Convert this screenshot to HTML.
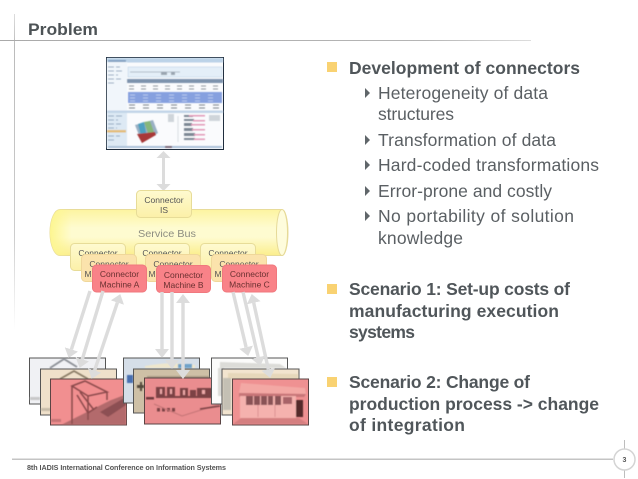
<!DOCTYPE html>
<html>
<head>
<meta charset="utf-8">
<style>
html,body{margin:0;padding:0;background:#fff;width:638px;height:479px;overflow:hidden}
svg{display:block}
text{font-family:"Liberation Sans",sans-serif}
.h{font-size:17.5px;font-weight:bold;fill:#50565a}
.s{font-size:17.5px;fill:#5a5f63}
.c{font-size:8.5px;fill:#555;text-anchor:middle}
.m{font-size:8.5px;fill:#6a3030;text-anchor:middle}
</style>
</head>
<body>
<svg width="638" height="479" viewBox="0 0 638 479" xmlns="http://www.w3.org/2000/svg">
<defs>
<linearGradient id="hl" x1="0" x2="1" y1="0" y2="0"><stop offset="0" stop-color="#aaa"/><stop offset=".8" stop-color="#b5b5b5"/><stop offset="1" stop-color="#ddd"/></linearGradient>
<linearGradient id="vl" x1="0" x2="0" y1="0" y2="1"><stop offset="0" stop-color="#ddd"/><stop offset=".1" stop-color="#bbb"/><stop offset=".7" stop-color="#ccc"/><stop offset="1" stop-color="#fff"/></linearGradient>
<linearGradient id="bus" x1="0" x2="0" y1="0" y2="1"><stop offset="0" stop-color="#fdf4a0"/><stop offset=".4" stop-color="#fefbd0"/><stop offset=".6" stop-color="#fefbd0"/><stop offset="1" stop-color="#fbee8c"/></linearGradient>
<linearGradient id="busx" x1="0" x2="1" y1="0" y2="0"><stop offset="0" stop-color="#fdf690"/><stop offset=".09" stop-color="#fdf690" stop-opacity="0"/></linearGradient>
<linearGradient id="box" x1="0" x2="0" y1="0" y2="1"><stop offset="0" stop-color="#fefad0"/><stop offset="1" stop-color="#fcf0a8"/></linearGradient>
<filter id="b1" x="-5%" y="-5%" width="110%" height="110%"><feGaussianBlur stdDeviation="0.7"/></filter>
<filter id="b0" x="-5%" y="-5%" width="110%" height="110%"><feGaussianBlur stdDeviation="0.45"/></filter>
<marker id="a" markerUnits="userSpaceOnUse" markerWidth="10" markerHeight="14" refX="0" refY="7" orient="auto-start-reverse"><path d="M0 0L9 7L0 14z" fill="#dcdcdc"/></marker>
</defs>

<!-- frame lines -->
<rect x="14" y="14" width="1" height="316" fill="url(#vl)"/>
<rect x="0" y="40" width="531" height="1" fill="url(#hl)"/>
<text x="28" y="35" font-size="17" font-weight="bold" fill="#4d5356" textLength="70" lengthAdjust="spacingAndGlyphs">Problem</text>

<!-- screenshot -->
<rect x="106.500" y="57.500" width="117" height="92" fill="#fafbfd" stroke="#1f2d3d" stroke-width="1"/>
<g filter="url(#b0)">
<rect x="107" y="58" width="116" height="4.500" fill="#bcd3e8"/>
<rect x="107" y="62" width="20" height="49" fill="#f1f6fb"/>
<rect x="107" y="112" width="20" height="36" fill="#dde9f4"/>
<rect x="108" y="60" width="18" height="2" fill="#7f9fc0"/>
<g stroke="#8fa8c0" stroke-width="1" stroke-dasharray="6 2">
<path d="M108 67h12M108 71h14M108 75h10M108 79h13M108 83h8"/>
<path d="M108 116h14M108 120h10M108 124h13M108 128h9M108 136h12M108 140h8"/>
</g>
<rect x="107" y="130" width="19" height="2.500" fill="#e3bd78"/>
<rect x="128" y="67" width="94" height="10" fill="#e4eff8" stroke="#bcd3e8" stroke-width=".6"/>
<path d="M130 72h50" stroke="#7e8a96" stroke-width=".6"/>
<rect x="161" y="72" width="6" height="3" fill="#9aa5b0"/><rect x="171" y="72" width="4" height="3" fill="#9aa5b0"/>
<rect x="127" y="79" width="96" height="4" fill="#7d93ad"/>
<g stroke="#9098a0" stroke-width="1" stroke-dasharray="5 7">
<path d="M129 86h92M129 89h92"/>
</g>
<rect x="128" y="92" width="94" height="11" fill="#86a0df"/>
<g stroke="#c8d4f2" stroke-width=".8" stroke-dasharray="5 8"><path d="M130 95h90M130 98h90M130 101h90"/></g>
<g stroke="#7c848c" stroke-width="1" stroke-dasharray="6 8"><path d="M129 105h92M129 108h92"/></g>
<rect x="107" y="110.500" width="116" height="2.500" fill="#c2d5e8"/>
<rect x="108" y="146" width="114" height="2" fill="#a9c0d8"/>
<rect x="165" y="146" width="7" height="2" fill="#7a6a7a"/>
<path d="M135 125l18-5 5 13-16 10z" fill="#9ab0c4"/>
<path d="M138 124l6-2 3 15-5 3z" fill="#4ea0c0"/>
<path d="M144 122l6-1 4 11-5 4z" fill="#86b67a"/>
<path d="M137 134l18-2 1 3-14 8z" fill="#a83838"/>
<g fill="#7d8894">
<rect x="184" y="115" width="9" height="2"/><rect x="184" y="119" width="10" height="2"/><rect x="184" y="123" width="8" height="3"/><rect x="184" y="128" width="9" height="3"/><rect x="184" y="133" width="11" height="3"/><rect x="184" y="138" width="11" height="2"/>
</g>
<g fill="#e29ab8">
<rect x="189" y="115" width="16" height="1.500"/><rect x="193" y="120" width="12" height="1.500"/><rect x="191" y="124" width="14" height="1.500"/><rect x="192" y="129" width="13" height="1.500"/><rect x="194" y="134" width="11" height="1.500"/><rect x="194" y="138.500" width="11" height="1.500"/>
</g>
<rect x="209" y="115" width="11" height="6" fill="#cfd5da"/>
<rect x="168" y="114" width="6" height="8" fill="#cfd5da"/>
<path d="M178 116v26" stroke="#c5ccd2" stroke-width=".6"/>
</g>

<!-- arrow IS -->
<g fill="#dcdcdc">
<rect x="162" y="157" width="3" height="28"/>
<path d="M163.500 151l7 7h-14zM163.500 191l7-7h-14z"/>
</g>

<!-- service bus -->
<path d="M60 209.500H282a6 23 0 0 1 0 46H60a10 23 0 0 1 0-46z" fill="url(#bus)" stroke="#e8dc9a" stroke-width="1"/>
<path d="M60 209.500H282a6 23 0 0 1 0 46H60a10 23 0 0 1 0-46z" fill="url(#busx)"/>
<ellipse cx="282" cy="232.500" rx="5.500" ry="23" fill="#fefcdc" stroke="#e6da98" stroke-width="1"/>
<text x="167" y="237" font-size="10.500" fill="#8d8d80" text-anchor="middle" textLength="58" lengthAdjust="spacingAndGlyphs">Service Bus</text>

<!-- connector IS -->
<rect x="136.500" y="190.500" width="55" height="27" rx="4" fill="url(#box)" stroke="#e7dc98"/>
<text class="c" x="164" y="203">Connector</text>
<text class="c" x="164" y="213">IS</text>

<!-- back row -->
<g fill="url(#box)" stroke="#e7dc98">
<rect x="70.500" y="243.500" width="55" height="27" rx="4"/>
<rect x="134.500" y="243.500" width="55" height="27" rx="4"/>
<rect x="200.500" y="243.500" width="55" height="27" rx="4"/>
</g>
<text class="c" x="98" y="256">Connector</text><text class="c" x="162" y="256">Connector</text><text class="c" x="228" y="256">Connector</text>
<text class="c" x="98" y="266">M</text><text class="c" x="162" y="266">M</text><text class="c" x="228" y="266">M</text>
<!-- middle row -->
<g fill="#fbe3ac" stroke="#efd79a">
<rect x="81.500" y="254.500" width="55" height="27" rx="4"/>
<rect x="145.500" y="254.500" width="55" height="27" rx="4"/>
<rect x="211.500" y="254.500" width="55" height="27" rx="4"/>
</g>
<text class="c" x="109" y="267">Connector</text><text class="c" x="173" y="267">Connector</text><text class="c" x="239" y="267">Connector</text>
<text class="c" x="88" y="277">M</text><text class="c" x="152" y="277">M</text><text class="c" x="218" y="277">M</text>
<!-- front row -->
<g fill="#f98288" stroke="#f0787e">
<rect x="92.500" y="265" width="54" height="27" rx="4"/>
<rect x="156.500" y="265.500" width="54" height="27" rx="4"/>
<rect x="222.500" y="265" width="54" height="27" rx="4"/>
</g>
<text class="m" x="119.500" y="277">Connector</text><text class="m" x="119.500" y="287.500">Machine A</text>
<text class="m" x="183.500" y="278">Connector</text><text class="m" x="183.500" y="288">Machine B</text>
<text class="m" x="249.500" y="277">Connector</text><text class="m" x="249.500" y="287.500">Machine C</text>

<!-- photos group A -->
<rect x="29.500" y="358" width="76" height="46" fill="#f0f1f4" stroke="#555"/>
<g filter="url(#b0)">
<rect x="30" y="397" width="10" height="3" fill="#c8c8c8"/>
<path d="M50 368l14-9 13 8" fill="none" stroke="#8c9096" stroke-width="1.800"/>
</g>
<rect x="40.500" y="369" width="76" height="46" fill="#efe0ca" stroke="#555"/>
<g filter="url(#b0)">
<rect x="41" y="408" width="10" height="3" fill="#c8bca8"/>
<path d="M60 379l14-8 14 8" fill="none" stroke="#8a7c66" stroke-width="1.800"/>
</g>
<rect x="50.500" y="379" width="76" height="46" fill="#f18f90" stroke="#5a4444"/>
<g filter="url(#b0)">
<path d="M62 424.500l20-10 28-14 16-6v30z" fill="#b36a6c"/>
<path d="M100 412l26-15v8l-18 12z" fill="#8c5052"/>
<path d="M51 419h10v3h-10z" fill="#c87476"/>
<g fill="none" stroke="#8a4a4c" stroke-width="1.500">
<path d="M72 386l13-5 22 11-19 4zM72 386v38M88 396v24M107 392v8"/>
<path d="M77 395l11 18 9-6"/>
<path d="M80 392l14 18"/>
</g>
</g>

<!-- photos group B -->
<rect x="123.500" y="358" width="76" height="45" fill="#d5dee8" stroke="#555"/>
<g filter="url(#b0)">
<path d="M145 366q25-5 50-1v3h-50z" fill="#eee6cc"/>
<rect x="127" y="375" width="6" height="8" fill="#4a70b0"/>
<rect x="178" y="364" width="14" height="4" fill="#6fa2c8"/>
</g>
<rect x="133.500" y="369" width="76" height="44" fill="#cec0a6" stroke="#555"/>
<g filter="url(#b0)">
<rect x="137" y="385" width="7" height="3" fill="#544c3c"/>
<rect x="140" y="382" width="2" height="9" fill="#544c3c"/>
<rect x="147" y="376" width="62" height="3" fill="#a89a84"/>
</g>
<rect x="144.500" y="378" width="76" height="46" fill="#ea8d8f" stroke="#5a4444"/>
<g filter="url(#b0)">
<rect x="146" y="397" width="8" height="2.500" fill="#6e3a3e"/>
<g fill="#7b4245">
<rect x="156" y="387" width="9" height="11"/>
<rect x="167" y="387" width="8" height="11"/>
<rect x="180" y="388" width="8" height="10"/>
<rect x="190" y="390" width="6" height="8"/>
<rect x="197" y="388" width="16" height="10"/>
<rect x="156" y="396" width="58" height="2"/>
<rect x="157" y="408" width="3" height="3.500"/><rect x="162" y="408" width="3" height="3.500"/><rect x="167" y="408" width="3" height="3.500"/><rect x="172" y="408" width="3" height="3.500"/>
</g>
<g fill="#eea8a8"><rect x="160" y="389" width="2" height="5"/><rect x="170" y="389" width="2" height="5"/><rect x="183" y="390" width="2" height="5"/><rect x="202" y="390" width="3" height="4"/></g>
<path d="M154 404l28 12 38-12" fill="none" stroke="#c47476" stroke-width="1"/>
<path d="M200 409l20-3" stroke="#7b4245" stroke-width="1.500"/>
</g>

<!-- photos group C -->
<rect x="211.500" y="358" width="76" height="46" fill="#fbfbfa" stroke="#555"/>
<g filter="url(#b0)">
<path d="M220 362l60 2 6 4h-66z" fill="#dcdcd8"/>
<rect x="218" y="368" width="6" height="28" fill="#dcdcd8"/>
</g>
<rect x="222" y="369" width="77" height="46" fill="#f2e4cf" stroke="#555"/>
<g filter="url(#b0)">
<path d="M228 373l70 1v5h-70z" fill="#e6d7ba"/>
<rect x="223" y="378" width="8" height="32" fill="#c4c0b4"/>
</g>
<rect x="232.500" y="379" width="76" height="46" fill="#ef9192" stroke="#5a4444"/>
<g filter="url(#b0)">
<path d="M241 383l64 5 1 6-67-1z" fill="#f3a8a4"/>
<path d="M239 393l67 1-2 3h-65z" fill="#c87678"/>
<rect x="240" y="396" width="56" height="22" fill="#f5b2ae"/>
<g fill="#8a5356">
<rect x="246" y="396" width="7" height="9"/><rect x="254" y="396" width="6" height="9"/><rect x="261" y="396" width="6" height="9"/><rect x="268" y="396" width="5" height="9"/><rect x="275" y="396" width="6" height="9"/>
</g>
<rect x="283" y="397" width="9" height="7" fill="#a86468"/>
<rect x="296" y="400" width="7" height="17" fill="#55292c"/>
<path d="M233 424l8-6h58l9 6z" fill="#d57f80"/>
<path d="M258 405v12M275 405v12" stroke="#d58a8a" stroke-width=".8"/>
</g>

<!-- machine arrows -->
<g stroke="#dcdcdc" stroke-width="3.400" fill="none">
<path d="M90 291L71.400 349.400" marker-end="url(#a)"/>
<path d="M103 291L82.300 359.300" marker-end="url(#a)"/>
<path d="M117.400 302.600L94.600 370.400" marker-start="url(#a)" marker-end="url(#a)"/>
<path d="M162 292V349" marker-end="url(#a)"/>
<path d="M172 292V360" marker-end="url(#a)"/>
<path d="M183 303V370" marker-start="url(#a)" marker-end="url(#a)"/>
<path d="M233 292L246.100 347.200" marker-end="url(#a)"/>
<path d="M243 292L258.200 357.200" marker-end="url(#a)"/>
<path d="M253.700 302.800L268.300 369.200" marker-start="url(#a)" marker-end="url(#a)"/>
</g>

<!-- right column bullets -->
<g fill="#f9d272">
<rect x="327" y="62" width="10" height="10"/>
<rect x="327" y="284" width="10" height="10"/>
<rect x="327" y="377" width="10" height="10"/>
</g>
<g fill="#60666a">
<path d="M365 88l5 5-5 5z"/>
<path d="M365 135l5 5-5 5z"/>
<path d="M365 160l5 5-5 5z"/>
<path d="M365 186l5 5-5 5z"/>
<path d="M365 211l5 5-5 5z"/>
</g>
<text class="h" x="349" y="74" textLength="231" lengthAdjust="spacing">Development of connectors</text>
<text class="s" x="378" y="99" textLength="170" lengthAdjust="spacing">Heterogeneity of data</text>
<text class="s" x="378" y="120" textLength="76" lengthAdjust="spacing">structures</text>
<text class="s" x="378" y="146" textLength="178" lengthAdjust="spacing">Transformation of data</text>
<text class="s" x="378" y="171" textLength="221" lengthAdjust="spacing">Hard-coded transformations</text>
<text class="s" x="378" y="197" textLength="174" lengthAdjust="spacing">Error-prone and costly</text>
<text class="s" x="378" y="222" textLength="196" lengthAdjust="spacing">No portability of solution</text>
<text class="s" x="378" y="244" textLength="85" lengthAdjust="spacing">knowledge</text>
<text class="h" x="349" y="295" textLength="221" lengthAdjust="spacing">Scenario 1: Set-up costs of</text>
<text class="h" x="349" y="317" textLength="210" lengthAdjust="spacing">manufacturing execution</text>
<text class="h" x="349" y="338" textLength="66" lengthAdjust="spacing">systems</text>
<text class="h" x="349" y="388" textLength="181" lengthAdjust="spacing">Scenario 2: Change of</text>
<text class="h" x="349" y="410" textLength="250" lengthAdjust="spacing">production process -&gt; change</text>
<text class="h" x="349" y="431" textLength="116" lengthAdjust="spacing">of integration</text>

<!-- footer -->
<rect x="12" y="458.500" width="601" height="1.500" fill="#c4c4c4"/>
<rect x="624" y="440" width="1" height="38" fill="#bdbdbd"/>
<circle cx="624.500" cy="459.500" r="10.500" fill="#fff" stroke="#d4d4d4" stroke-width="1.500"/>
<text x="624.500" y="462" font-size="7" font-weight="bold" fill="#555" text-anchor="middle">3</text>
<text x="27" y="470" font-size="7.200" font-weight="bold" fill="#555" textLength="199" lengthAdjust="spacing">8th IADIS International Conference on Information Systems</text>
</svg>
</body>
</html>
